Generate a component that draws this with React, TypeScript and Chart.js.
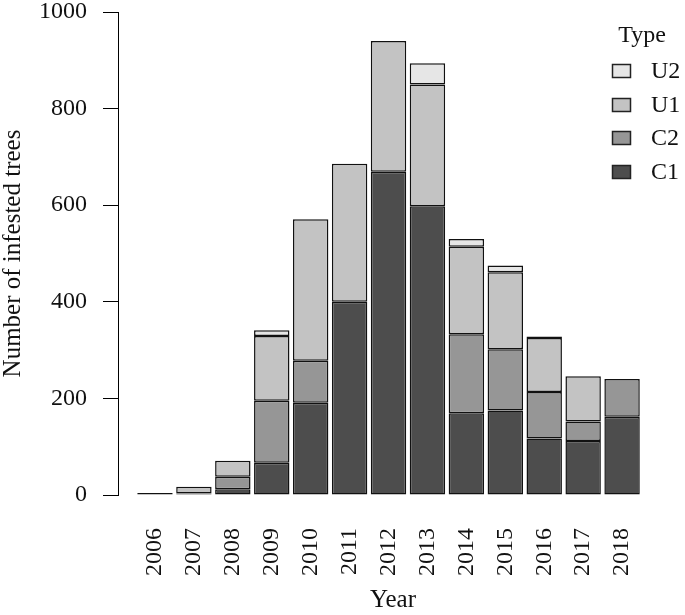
import React, { useEffect, useRef } from 'react';
import { Chart, registerables } from 'chart.js';

Chart.register(...registerables);

// ---- data ----
const years = [2006, 2007, 2008, 2009, 2010, 2011, 2012, 2013, 2014, 2015, 2016, 2017, 2018];
const c1 = [4, 3, 12, 67, 191, 400, 669, 598, 169, 175, 117, 112, 162];
const c2 = [0, 0, 26, 128, 87, 0, 0, 0, 164, 127, 96, 40, 78];
const u1 = [0, 14, 33, 134, 293, 286, 271, 252, 181, 159, 112, 94, 0];
const u2 = [0, 0, 0, 12, 0, 0, 0, 44, 16, 14, 3, 0, 0];
const yTicks = [0, 200, 400, 600, 800, 1000];
const seriesLabels = ['C1', 'C2', 'U1', 'U2'];
const seriesColors = ['#4D4D4D', '#969696', '#C3C3C3', '#E6E6E6'];
const legendTitle = 'Type';
const xTitle = 'Year';
const yTitle = 'Number of infested trees';

const FONT = '"Liberation Serif", "Times New Roman", serif';
const TEXT = '#111';

const legendPlugin = {
  id: 'rLegend',
  afterDraw(chart: any) {
    const ctx = chart.ctx;
    const ds = chart.data.datasets.slice().reverse();
    ctx.save();
    ctx.font = `24px ${FONT}`;
    ctx.fillStyle = TEXT;
    ctx.textBaseline = 'middle';
    ctx.textAlign = 'center';
    ctx.fillText(legendTitle, 642, 36);
    ds.forEach((d: any, i: number) => {
      const y = 71 + i * 33.5;
      ctx.fillStyle = d.backgroundColor;
      ctx.fillRect(612, Math.round(y - 7), 19, 14);
      ctx.strokeStyle = '#222';
      ctx.lineWidth = 1.5;
      ctx.strokeRect(612.5, Math.round(y - 7) + 0.5, 18, 13);
      ctx.fillStyle = TEXT;
      ctx.textAlign = 'left';
      ctx.fillText(d.label, 651, y + 1);
    });
    ctx.restore();
  },
};

export default function App() {
  const ref = useRef<HTMLCanvasElement>(null);

  useEffect(() => {
    if (!ref.current) return;
    const series = [c1, c2, u1, u2];
    const chart = new Chart(ref.current, {
      type: 'bar',
      data: {
        datasets: series.map((vals, i) => ({
          label: seriesLabels[i],
          data: years.map((yr, j) => ({ x: yr, y: vals[j] })),
          backgroundColor: seriesColors[i],
          borderColor: '#111',
          borderWidth: 1.5,
          borderSkipped: false,
          inflateAmount: 0,
          barPercentage: 0.91,
          categoryPercentage: 1,
          stack: 's',
        })),
      },
      options: {
        responsive: false,
        animation: false,
        layout: { padding: { top: 12, right: 17, bottom: 0, left: 0 } },
        plugins: { legend: { display: false }, tooltip: { enabled: false } },
        scales: {
          x: {
            type: 'linear',
            stacked: true,
            min: 2005.05,
            max: 2019.18,
            offset: false,
            afterBuildTicks: (s: any) => {
              s.ticks = years.map((v) => ({ value: v }));
            },
            afterFit: (s: any) => {
              s.height = 120;
              s.paddingLeft = 0;
              s.paddingRight = 0;
            },
            grid: { display: false, drawTicks: false },
            border: { display: false },
            ticks: {
              autoSkip: false,
              minRotation: 90,
              maxRotation: 90,
              padding: 33,
              color: TEXT,
              font: { family: FONT, size: 24 },
              callback: (v: any) => String(v),
            },
            title: {
              display: true,
              text: xTitle,
              color: TEXT,
              font: { family: FONT, size: 25, lineHeight: 1.2 },
              padding: { top: 0, bottom: 0 },
            },
          },
          y: {
            stacked: true,
            min: 0,
            max: 1000,
            afterBuildTicks: (s: any) => {
              s.ticks = yTicks.map((v) => ({ value: v }));
            },
            afterFit: (s: any) => {
              s.width = 118;
              s.paddingTop = 0;
              s.paddingBottom = 0;
            },
            grid: { drawOnChartArea: false, drawTicks: true, tickLength: 15, color: '#000', lineWidth: 1 },
            border: { display: true, color: '#000', width: 1 },
            ticks: {
              padding: 16,
              color: TEXT,
              font: { family: FONT, size: 24, lineHeight: 1 },
              callback: (v: any) => String(v),
            },
            title: {
              display: true,
              text: yTitle,
              color: TEXT,
              font: { family: FONT, size: 25, lineHeight: 1 },
              padding: { top: 1, bottom: 0 },
            },
          },
        },
      },
      plugins: [legendPlugin],
    });
    return () => chart.destroy();
  }, []);

  return (
    <canvas
      ref={ref}
      width={685}
      height={615}
      style={{ position: 'fixed', left: 0, top: 0, width: 685, height: 615, display: 'block' }}
    />
  );
}
